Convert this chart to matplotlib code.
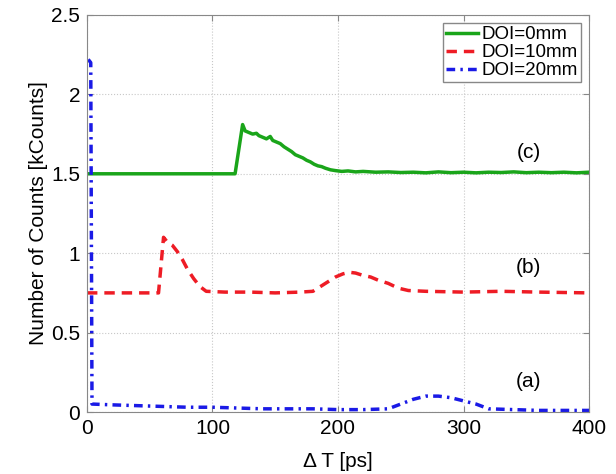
import matplotlib.pyplot as plt
import numpy as np

plt.rcParams['font.family'] = ['Liberation Sans', 'DejaVu Sans']

# DOI = 0mm  (c)
x_c = [0, 118, 124, 126, 129, 132, 135, 137, 140, 143, 146, 148, 151, 154, 157, 160, 163, 166,
       169, 172, 175, 178, 181, 184, 187, 190, 194, 198, 203, 208, 214, 220, 230, 240, 250,
       260, 270, 280, 290, 300, 310, 320, 330, 340, 350, 360, 370, 380, 390, 400]
y_c = [1.5, 1.5, 1.81, 1.77, 1.76, 1.75, 1.755, 1.74, 1.73, 1.72, 1.735, 1.71, 1.70, 1.69,
       1.67, 1.655, 1.64, 1.62, 1.61, 1.60, 1.585, 1.575, 1.56, 1.55, 1.545, 1.535, 1.525,
       1.52, 1.515, 1.518, 1.512, 1.515, 1.51, 1.512, 1.508, 1.51, 1.506, 1.512, 1.507, 1.51,
       1.506, 1.51, 1.508, 1.512, 1.507, 1.51, 1.507, 1.51, 1.506, 1.51]

# DOI = 10mm  (b)
x_b = [0, 57, 61, 64, 68, 72, 76, 80, 85, 90, 95, 110, 130, 150, 170, 180, 186, 192, 198,
       204, 209, 214, 220, 226, 232, 240, 248, 256, 270, 300, 330, 360, 400]
y_b = [0.75, 0.75, 1.1, 1.07, 1.05, 1.01, 0.96, 0.9, 0.84, 0.79, 0.76, 0.755, 0.755, 0.75,
       0.755, 0.76, 0.79, 0.82, 0.85, 0.87, 0.88, 0.875, 0.86, 0.85, 0.83, 0.81, 0.78, 0.765,
       0.76, 0.755, 0.76, 0.755, 0.75]

# DOI = 20mm  (a)
x_a = [1, 3, 4, 20, 40, 60, 80, 100, 120, 140, 160, 180, 200, 220, 240, 250, 260, 270, 280,
       290, 300, 310, 320, 340, 360, 380, 400]
y_a = [2.22, 2.2, 0.05, 0.045, 0.04, 0.035, 0.03, 0.03, 0.025, 0.02, 0.02, 0.02, 0.015, 0.015,
       0.02, 0.05, 0.08, 0.1, 0.1, 0.09, 0.07, 0.05, 0.02, 0.015, 0.01, 0.01, 0.01]

fig = plt.figure(figsize=(6.16, 4.74), dpi=100)
ax = fig.add_axes([0.1412, 0.1308, 0.815, 0.8376])

ax.plot(x_c, y_c, color='#1aa51a', lw=2.5, label='DOI=0mm')
ax.plot(x_b, y_b, color='#ee1c25', lw=2.5, ls=(0, (3, 2)), label='DOI=10mm')
ax.plot(x_a, y_a, color='#1a1ae6', lw=2.5, ls=(0, (2.5, 1.5, 0.7, 1.5)), label='DOI=20mm')

ax.text(352, 1.635, '(c)', fontsize=15, ha='center', va='center')
ax.text(352, 0.91, '(b)', fontsize=15, ha='center', va='center')
ax.text(352, 0.19, '(a)', fontsize=15, ha='center', va='center')

ax.set_xlim(0, 400)
ax.set_ylim(0, 2.5)
ax.set_xticks([0, 100, 200, 300, 400])
ax.set_yticks([0, 0.5, 1, 1.5, 2, 2.5])
ax.set_yticklabels(['0', '0.5', '1', '1.5', '2', '2.5'])
ax.grid(True, ls=':', color='#c8c8c8', lw=0.8)
ax.tick_params(direction='in', top=True, right=True, labelsize=15, length=4,
               color='#888888', pad=5)
for s in ax.spines.values():
    s.set_color('#888888')

ax.set_xlabel('\u0394 T [ps]', fontsize=15, labelpad=10)
ax.set_ylabel('Number of Counts [kCounts]', fontsize=15, labelpad=2)

leg = ax.legend(loc='upper right', fontsize=13.5, fancybox=False, framealpha=1,
                handlelength=1.7, handletextpad=0.2, borderaxespad=0.45,
                labelspacing=0.05, borderpad=0.15)
leg.get_frame().set_edgecolor('#888888')

fig.savefig('out.png', dpi=100)
